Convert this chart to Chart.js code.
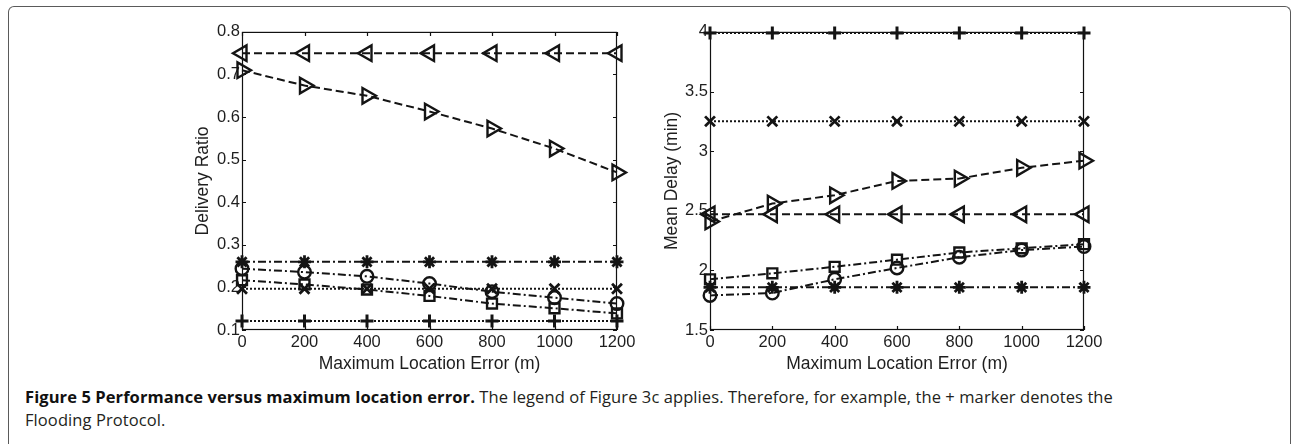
<!DOCTYPE html>
<html>
<head>
<meta charset="utf-8">
<script src="https://cdn.jsdelivr.net/npm/chart.js@4.4.0/dist/chart.umd.min.js"></script>
<style>
  html, body { margin: 0; padding: 0; background: #fff; width: 1292px; height: 444px; overflow: hidden; }
  #frame {
    position: absolute; left: 8px; top: 6px; width: 1283px; height: 470px;
    border: 1px solid #5a5a5a; border-bottom: none; border-radius: 6px 6px 0 0;
    box-sizing: border-box;
  }
  .plot { position: absolute; top: 20px; }
  #caption {
    position: absolute; left: 25px; top: 385px;
    font-family: "Open Sans", "Noto Sans", sans-serif; font-size: 16.5px; line-height: 23.4px;
    color: #231f20; white-space: nowrap;
  }
  #caption b { color: #111; font-weight: 700; }
</style>
</head>
<body>
<div id="frame"></div>
<div class="plot" style="left:190px"><canvas id="ratio-chart"></canvas></div>
<div class="plot" style="left:660px"><canvas id="delay-chart"></canvas></div>
<div id="caption"><span id="line1"><b>Figure 5 Performance versus maximum location error.</b> The legend of Figure 3c applies. Therefore, for example, the + marker denotes the</span><br>Flooding Protocol.</div>

<script>
// x values (maximum location error, m)
const errors = [0, 200, 400, 600, 800, 1000, 1200];

// tick labels
const errorTicks = [0, 200, 400, 600, 800, 1000, 1200];
const ratioTicks = [0.1, 0.2, 0.3, 0.4, 0.5, 0.6, 0.7, 0.8];
const delayTicks = [1.5, 2, 2.5, 3, 3.5, 4];

// delivery ratio per marker
const ratioLeftTri  = [0.75, 0.75, 0.75, 0.75, 0.75, 0.75, 0.75];
const ratioRightTri = [0.710, 0.674, 0.650, 0.613, 0.573, 0.526, 0.470];
const ratioStar     = [0.260, 0.260, 0.260, 0.260, 0.260, 0.260, 0.260];
const ratioCircle   = [0.244, 0.236, 0.226, 0.209, 0.190, 0.176, 0.162];
const ratioSquare   = [0.217, 0.207, 0.195, 0.180, 0.162, 0.151, 0.139];
const ratioCross    = [0.197, 0.197, 0.197, 0.197, 0.197, 0.197, 0.197];
const ratioPlus     = [0.121, 0.121, 0.121, 0.121, 0.121, 0.121, 0.121];

// mean delay (min) per marker
const delayPlus     = [3.99, 3.99, 3.99, 3.99, 3.99, 3.99, 3.99];
const delayCross    = [3.25, 3.25, 3.25, 3.25, 3.25, 3.25, 3.25];
const delayRightTri = [2.41, 2.56, 2.63, 2.75, 2.77, 2.86, 2.92];
const delayLeftTri  = [2.47, 2.47, 2.47, 2.47, 2.47, 2.47, 2.47];
const delaySquare   = [1.925, 1.975, 2.03, 2.09, 2.15, 2.185, 2.22];
const delayCircle   = [1.79, 1.81, 1.925, 2.02, 2.11, 2.17, 2.20];
const delayStar     = [1.858, 1.858, 1.858, 1.858, 1.858, 1.858, 1.858];

const INK = "#141414";
const AXIS_FONT = "Arial, 'Liberation Sans', Helvetica, sans-serif";

// line styles like matlab's '--', ':' and '-.'
const DASH = [8, 4];
const DOT = [2, 2];
const DASHDOT = [8, 3, 2, 3];

// marker styles
const MARKERS = {
  leftTri:  { pointStyle: "triangle", rotation: -90, radius: 9, width: 2.4, dash: DASH },
  rightTri: { pointStyle: "triangle", rotation: 90, radius: 9, width: 2.4, dash: DASH },
  star:     { pointStyle: "star", rotation: 0, radius: 6.5, width: 2.8, dash: DASHDOT },
  circle:   { pointStyle: "circle", rotation: 0, radius: 6.3, width: 2.4, dash: DASHDOT },
  square:   { pointStyle: "rect", rotation: 0, radius: 7, width: 2.4, dash: DASHDOT },
  cross:    { pointStyle: "crossRot", rotation: 0, radius: 7, width: 2.8, dash: DOT },
  plus:     { pointStyle: "cross", rotation: 0, radius: 6.5, width: 3, dash: DOT },
};

function series(values, kind) {
  const m = MARKERS[kind];
  return {
    data: values.map((v, i) => ({ x: errors[i], y: v })),
    borderColor: INK,
    borderWidth: 2,
    borderDash: m.dash,
    pointStyle: m.pointStyle,
    pointRotation: m.rotation,
    pointRadius: m.radius,
    pointBorderWidth: m.width,
    pointBorderColor: INK,
    pointBackgroundColor: "rgba(0,0,0,0)",
    tension: 0,
    clip: false,
  };
}

// matlab style box with inward ticks on all four sides
const boxTicks = {
  id: "boxTicks",
  beforeDatasetsDraw(chart) {
    const { ctx, chartArea: a, scales } = chart;
    const len = 4;
    ctx.save();
    ctx.strokeStyle = "#111";
    ctx.lineWidth = 1.2;
    ctx.strokeRect(a.left + 0.5, a.top + 0.5, a.right - a.left - 1, a.bottom - a.top - 1);
    ctx.beginPath();
    scales.x.ticks.forEach((t) => {
      const px = Math.round(scales.x.getPixelForValue(t.value)) + 0.5;
      ctx.moveTo(px, a.bottom);
      ctx.lineTo(px, a.bottom - len);
      ctx.moveTo(px, a.top);
      ctx.lineTo(px, a.top + len);
    });
    scales.y.ticks.forEach((t) => {
      const py = Math.round(scales.y.getPixelForValue(t.value)) + 0.5;
      ctx.moveTo(a.left, py);
      ctx.lineTo(a.left + len, py);
      ctx.moveTo(a.right, py);
      ctx.lineTo(a.right - len, py);
    });
    ctx.stroke();
    ctx.restore();
  },
};

function makeChart(id, datasets, opts) {
  const canvas = document.getElementById(id);
  canvas.width = 460;
  canvas.height = 355;
  return new Chart(canvas.getContext("2d"), {
    type: "line",
    data: { datasets: datasets },
    options: {
      responsive: false,
      animation: false,
      devicePixelRatio: 1,
      layout: { padding: { top: opts.padTop, right: opts.padRight, left: 0, bottom: 0 } },
      plugins: { legend: { display: false }, tooltip: { enabled: false } },
      scales: {
        x: {
          type: "linear",
          min: 0,
          max: 1200,
          afterBuildTicks: (scale) => { scale.ticks = errorTicks.map((v) => ({ value: v })); },
          afterFit: (scale) => { scale.height = 45; },
          grid: { display: false, drawTicks: false },
          border: { display: false },
          ticks: {
            color: "#1e1e1e",
            padding: 3,
            maxRotation: 0,
            autoSkip: false,
            font: { family: AXIS_FONT, size: 16.5 },
            callback: (v) => String(v),
          },
          title: {
            display: true,
            text: "Maximum Location Error (m)",
            color: "#1e1e1e",
            font: { family: AXIS_FONT, size: 17.5, lineHeight: 1.2 },
            padding: { top: 6.5, bottom: 0 },
          },
        },
        y: {
          type: "linear",
          min: opts.yTicks[0],
          max: opts.yTicks[opts.yTicks.length - 1],
          afterBuildTicks: (scale) => { scale.ticks = opts.yTicks.map((v) => ({ value: v })); },
          afterFit: (scale) => { scale.width = opts.yWidth; },
          grid: { display: false, drawTicks: false },
          border: { display: false },
          ticks: {
            color: "#1e1e1e",
            padding: 2,
            autoSkip: false,
            font: { family: AXIS_FONT, size: 16.5 },
            callback: (v) => String(v),
          },
          title: {
            display: true,
            text: opts.yTitle,
            color: "#1e1e1e",
            font: { family: AXIS_FONT, size: 17.5, lineHeight: 1.2 },
            padding: { top: opts.titlePad, bottom: 0 },
          },
        },
      },
    },
    plugins: [boxTicks],
  });
}

makeChart("ratio-chart", [
  series(ratioLeftTri, "leftTri"),
  series(ratioRightTri, "rightTri"),
  series(ratioStar, "star"),
  series(ratioCircle, "circle"),
  series(ratioSquare, "square"),
  series(ratioCross, "cross"),
  series(ratioPlus, "plus"),
], { yTicks: ratioTicks, yTitle: "Delivery Ratio", yWidth: 52, padTop: 11, padRight: 33, titlePad: 2.5 });

makeChart("delay-chart", [
  series(delayPlus, "plus"),
  series(delayCross, "cross"),
  series(delayRightTri, "rightTri"),
  series(delayLeftTri, "leftTri"),
  series(delaySquare, "square"),
  series(delayCircle, "circle"),
  series(delayStar, "star"),
], { yTicks: delayTicks, yTitle: "Mean Delay (min)", yWidth: 50, padTop: 10, padRight: 36, titlePad: 1.5 });

// squeeze caption so the first line ends where it does in the figure
const line1 = document.getElementById("line1");
const chars = line1.textContent.length;
const extra = (1088 - line1.getBoundingClientRect().width) / chars;
document.getElementById("caption").style.letterSpacing = extra.toFixed(3) + "px";
</script>
</body>
</html>
